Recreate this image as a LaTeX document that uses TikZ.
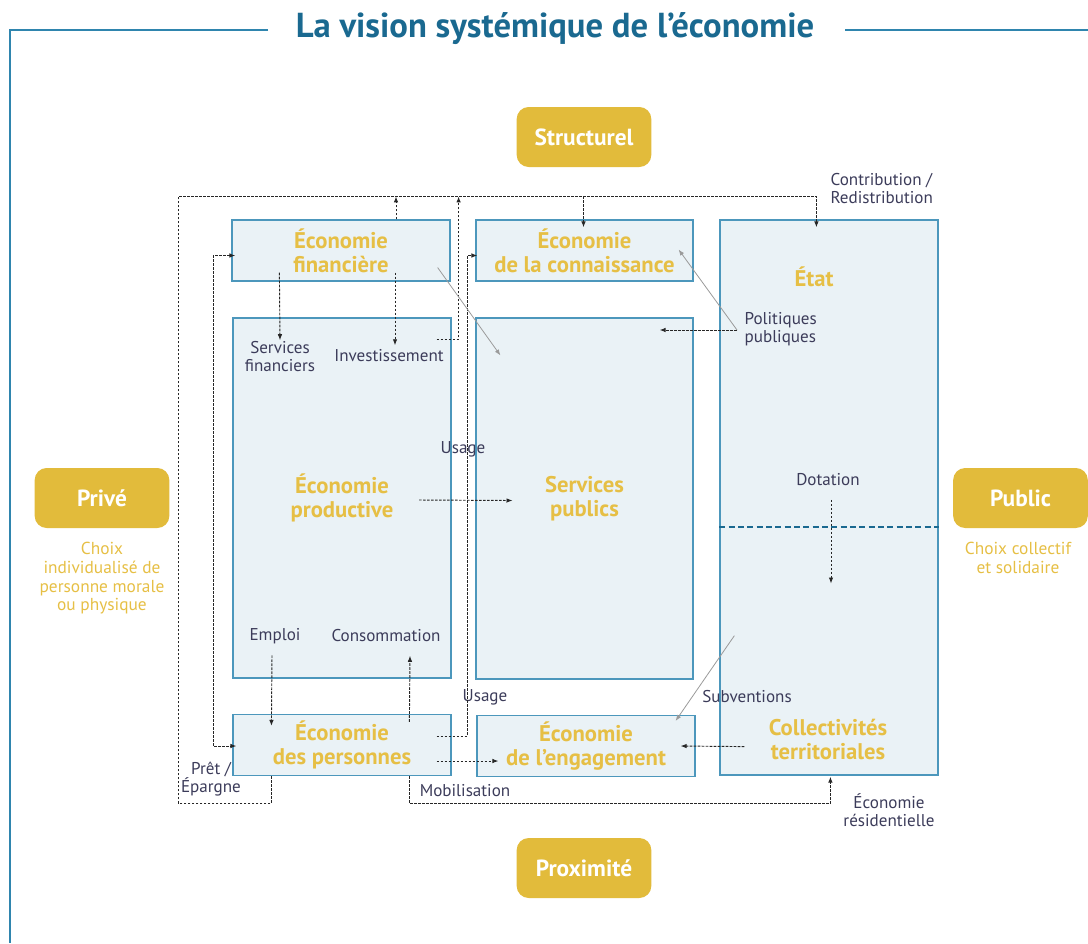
\documentclass[tikz,border=0pt]{standalone}
\usepackage{fontspec}
\setmainfont{PT Sans}
\usetikzlibrary{arrows.meta,calc,positioning}

\definecolor{titleblue}{HTML}{1A6990}
\definecolor{frameblue}{HTML}{2F85AE}
\definecolor{boxline}{HTML}{4C97BC}
\definecolor{boxfill}{HTML}{EAF2F6}
\definecolor{gold}{HTML}{E2BB3B}
\definecolor{goldtext}{HTML}{E6BF45}
\definecolor{lbltext}{HTML}{3C3C5A}
\definecolor{greyline}{HTML}{9A9A9A}

\newcommand\boxlblfont{\fontsize{17}{18}\selectfont\bfseries}
\newcommand\lblfont{\fontsize{12.8}{13.5}\selectfont}

\tikzset{
  box/.style={draw=boxline, fill=boxfill, line width=0.9pt, inner sep=0pt,
    align=center, text=goldtext, font=\boxlblfont},
  boxlbl/.style={align=center, text=goldtext, font=\boxlblfont, inner sep=1pt},
  pill/.style={fill=gold, rounded corners=9pt, minimum width=101pt,
    minimum height=45pt, text=white, font=\fontsize{17.5}{18}\selectfont\bfseries},
  note/.style={align=center, text=goldtext, font=\fontsize{13}{14}\selectfont, inner sep=1pt},
  lbl/.style={align=center, text=lbltext, font=\lblfont, inner sep=1pt},
  flow/.style={draw=black!85, line width=0.7pt, dash pattern=on 2pt off 1pt,
    -{Latex[length=4.5pt,width=3.4pt]}},
  flowboth/.style={flow, {Latex[length=4.5pt,width=3.4pt]}-{Latex[length=4.5pt,width=3.4pt]}},
  grayarrow/.style={draw=greyline, line width=0.6pt, -{Latex[length=4.5pt,width=3.4pt]}},
  frame/.style={draw=frameblue, line width=1pt}
}

\begin{document}
\begin{tikzpicture}[x=0.75pt, y=-0.75pt]
  \useasboundingbox (0,0) rectangle (1088,943);

  % title and frame
  \node[text=titleblue, font=\fontsize{26}{30}\selectfont\bfseries] (title) at (555,29)
    {La vision systémique de l’économie};
  \draw[frame] (268,30) -- (10,30) -- (10,943);
  \draw[frame] (845,30) -- (1088,30);

  % the four poles
  \node[pill] (struct) at (584,137) {Structurel};
  \node[pill] (prox) at (584,868) {Proximité};
  \node[pill] (prive) at (102,498) {Privé};
  \node[pill] (public) at (1020.5,498) {Public};
  \node[note, anchor=north] (choixprive) at (102,541)
    {Choix\\individualisé de\\personne morale\\ou physique};
  \node[note, anchor=north] (choixpublic) at (1018,541) {Choix collectif\\et solidaire};

  % boxes
  \node[box, minimum width=163.5pt, minimum height=45.75pt] (fin) at (341,250.5)
    {Économie\\financière};
  \node[box, minimum width=162.75pt, minimum height=45.75pt] (know) at (584.5,250.5)
    {Économie\\de la connaissance};
  \node[box, minimum width=163.5pt, minimum height=416.25pt] (state) at (829,497.5) {};
  \node[box, minimum width=163.5pt, minimum height=270pt] (prod) at (342,498)
    {Économie\\productive};
  \node[box, minimum width=162.75pt, minimum height=270.75pt] (pub) at (584.5,498.5)
    {Services\\publics};
  \node[box, minimum width=163.5pt, minimum height=45.75pt] (pers) at (342,745)
    {Économie\\des personnes};
  \node[box, minimum width=163.5pt, minimum height=45.75pt] (enga) at (586,746)
    {Économie\\de l’engagement};
  \draw[draw=titleblue, line width=0.8pt, dash pattern=on 4.5pt off 2.5pt]
    ($(state.west)+(0,29.5)$) -- ($(state.east)+(0,29.5)$);
  \node[boxlbl] (etat) at (814,277) {État};
  \node[boxlbl] (coll) at (828,739) {Collectivités\\territoriales};

  % labels
  \node[lbl] (svcfin) at (280,357) {Services\\financiers};
  \node[lbl] (invest) at (389,356) {Investissement};
  \node[lbl] (emploi) at (275,636) {Emploi};
  \node[lbl] (conso) at (386,636) {Consommation};
  \node[lbl] (usagehaut) at (463,449) {Usage};
  \node[lbl] (usagebas) at (485,697) {Usage};
  \node[lbl, align=left, anchor=west] (polpub) at (743,329.5) {Politiques\\publiques};
  \node[lbl, align=left, anchor=west] (contrib) at (829,189) {Contribution /\\Redistribution};
  \node[lbl] (dotation) at (828,480) {Dotation};
  \node[lbl] (subv) at (747,697) {Subventions};
  \node[lbl] (ecores) at (889,810) {Économie\\résidentielle};
  \node[lbl] (pret) at (211,779) {Prêt /\\Épargne};
  \node[lbl] (mobil) at (465,791) {Mobilisation};

  % flows
  \draw[flow] ($(pers.south west)+(39,0)$) |- (178,803) |- ($(state.north west)+(97,-23)$)
    -- ($(state.north west)+(97,8)$);
  \draw[flow] ($(fin.north)+(55,0)$) -- ($(fin.north)+(55,-23)$);
  \draw[flow] ($(prod.north east)+(-15,22)$) -| ($(fin.north east)+(8,-23)$);
  \draw[flow] ($(know.north)+(-1,-23)$) -- ($(know.north)+(-1,8)$);
  \draw[flowboth] ($(fin.west)+(4,5)$) -- ($(fin.west)+(-18,5)$) |- ($(pers.west)+(4,1)$);
  \draw[flow] ($(fin.south west)+(48,-9)$) -- (svcfin.north);
  \draw[flow] ($(fin.south)+(54,-9)$) -- ($(invest.north)+(6,-3)$);
  \draw[flow] ($(emploi.south)+(-3,10)$) -- ($(pers.north west)+(39,12)$);
  \draw[flow] ($(pers.north west)+(177,8)$) -- ($(conso.south)+(24,12)$);
  \draw[flow] ($(pers.east)+(-15,-9)$) -| ($(know.west)+(-8,5)$) -- ($(know.west)+(2,5)$);
  \draw[flow] ($(prod.center)+(77,2)$) -- ($(pub.center)+(-72,2)$);
  \draw[flow] ($(pers.east)+(-15,16)$) -- ($(enga.west)+(22,15)$);
  \draw[flow] ($(pers.south west)+(177,0)$) |- ($(state.south west)+(111,28)$)
    -- ($(state.south west)+(111,1)$);
  \draw[flow] ($(state.south west)+(25,-29)$) -- ($(enga.east)+(-15,0)$);
  \draw[flow] ($(polpub.west)+(-6,0.5)$) -- ($(polpub.west -| pub.east)+(-34,0.5)$);
  \draw[flow] ($(dotation.south)+(3,12)$) -- ($(state.center)+(2,86)$);

  % influences
  \draw[grayarrow] ($(fin.east)+(-13,17)$) -- ($(pub.north west)+(25,38)$);
  \draw[grayarrow] ($(polpub.west)+(-6,0.5)$) -- ($(know.east)+(-15,-1)$);
  \draw[grayarrow] ($(state.south west)+(15,-140)$) -- ($(enga.north east)+(-20,6)$);
\end{tikzpicture}
\end{document}
